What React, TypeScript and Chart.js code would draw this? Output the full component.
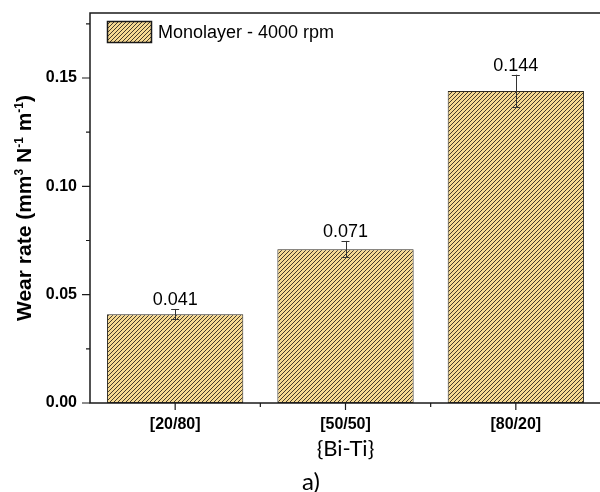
import { useEffect, useRef } from "react";
import { Chart, registerables } from "chart.js";

Chart.register(...registerables);

const categories = ["[20/80]", "[50/50]", "[80/20]"];
const wearRate = [0.041, 0.071, 0.144];
const wearError = [0.0024, 0.0038, 0.0075];
const valueLabels = ["0.041", "0.071", "0.144"];
const yMinorStep = 0.025;
const yMajorStep = 0.05;
const yMax = 0.18;
const seriesLabel = "Monolayer - 4000 rpm";
const xTitle = "{Bi-Ti}";
const panelLabel = "a)";
const yTitleParts = [
  { t: "Wear rate (mm", sup: false },
  { t: "3", sup: true },
  { t: " N", sup: false },
  { t: "-1", sup: true },
  { t: " m", sup: false },
  { t: "-1", sup: true },
  { t: ")", sup: false },
];

const ARIAL = '"Liberation Sans", Arial, sans-serif';
const CALIBRI = 'Lato, "Open Sans", sans-serif';
const TAN = "#f6d992";
const STRIPE = "#3a3226";
const INK = "#1a1a1a";

function makePattern(): CanvasPattern | string {
  const c = document.createElement("canvas");
  c.width = 4;
  c.height = 4;
  const g = c.getContext("2d");
  if (!g) return TAN;
  g.fillStyle = TAN;
  g.fillRect(0, 0, 4, 4);
  g.strokeStyle = STRIPE;
  g.lineWidth = 0.95;
  g.beginPath();
  g.moveTo(0, 4);
  g.lineTo(4, 0);
  g.moveTo(-1, 1);
  g.lineTo(1, -1);
  g.moveTo(3, 5);
  g.lineTo(5, 3);
  g.stroke();
  const p = g.createPattern(c, "repeat");
  return p || TAN;
}

export default function App() {
  const ref = useRef<HTMLCanvasElement | null>(null);

  useEffect(() => {
    const canvas = ref.current;
    if (!canvas) return;
    const pattern = makePattern();

    const decor = {
      id: "decor",
      afterDatasetsDraw(chart: any) {
        const ctx = chart.ctx as CanvasRenderingContext2D;
        const { left, right, top, bottom } = chart.chartArea;
        const ys = chart.scales.y;
        const xs = chart.scales.x;
        ctx.save();

        // error bars and value labels
        const meta = chart.getDatasetMeta(0);
        meta.data.forEach((bar: any, i: number) => {
          const x = bar.x;
          const yTop = ys.getPixelForValue(wearRate[i] + wearError[i]);
          const yBot = ys.getPixelForValue(wearRate[i] - wearError[i]);
          ctx.strokeStyle = "#333";
          ctx.lineWidth = 1;
          ctx.beginPath();
          ctx.moveTo(Math.round(x) + 0.5, yTop);
          ctx.lineTo(Math.round(x) + 0.5, yBot);
          ctx.moveTo(x - 4, Math.round(yTop) + 0.5);
          ctx.lineTo(x + 4, Math.round(yTop) + 0.5);
          ctx.moveTo(x - 4, Math.round(yBot) + 0.5);
          ctx.lineTo(x + 4, Math.round(yBot) + 0.5);
          ctx.stroke();
          ctx.fillStyle = "#000";
          ctx.font = `18px ${ARIAL}`;
          ctx.textAlign = "center";
          ctx.textBaseline = "alphabetic";
          ctx.fillText(valueLabels[i], x, yTop - 4);
        });

        // frame
        ctx.strokeStyle = INK;
        ctx.lineWidth = 1.5;
        ctx.beginPath();
        ctx.moveTo(left, top);
        ctx.lineTo(right, top);
        ctx.lineTo(right, bottom);
        ctx.lineTo(left, bottom);
        ctx.closePath();
        ctx.stroke();

        // y ticks
        ctx.lineWidth = 1.2;
        ctx.beginPath();
        for (let i = 0; i * yMinorStep <= yMax + 1e-9; i++) {
          const v = i * yMinorStep;
          const py = ys.getPixelForValue(v);
          const major = Math.abs(v / yMajorStep - Math.round(v / yMajorStep)) < 1e-6;
          ctx.moveTo(left - (major ? 8 : 4), py);
          ctx.lineTo(left, py);
        }
        // x ticks
        const n = categories.length;
        for (let i = 0; i < n; i++) {
          const px = xs.getPixelForValue(i);
          ctx.moveTo(px, bottom);
          ctx.lineTo(px, bottom + 7);
          if (i < n - 1) {
            const mx = (px + xs.getPixelForValue(i + 1)) / 2;
            ctx.moveTo(mx, bottom);
            ctx.lineTo(mx, bottom + 4);
          }
        }
        ctx.stroke();

        // legend
        const lx = 107.5;
        const ly = 21.5;
        ctx.fillStyle = pattern as any;
        ctx.fillRect(lx, ly, 44, 21);
        ctx.strokeStyle = INK;
        ctx.lineWidth = 1.5;
        ctx.strokeRect(lx, ly, 44, 21);
        ctx.fillStyle = "#000";
        ctx.font = `18px ${ARIAL}`;
        ctx.textAlign = "left";
        ctx.textBaseline = "middle";
        ctx.fillText(seriesLabel, 158, 33);

        // x title & panel label
        ctx.textAlign = "center";
        ctx.textBaseline = "alphabetic";
        ctx.font = `22px ${CALIBRI}`;
        ctx.fillText(xTitle, (left + right) / 2, 456);
        ctx.font = `24px ${CALIBRI}`;
        ctx.fillText(panelLabel, 311, 490);

        // y title with superscripts
        const mainFont = `bold 21px ${ARIAL}`;
        const supFont = `bold 12px ${ARIAL}`;
        let total = 0;
        const widths = yTitleParts.map((p) => {
          ctx.font = p.sup ? supFont : mainFont;
          const w = ctx.measureText(p.t).width;
          total += w;
          return w;
        });
        ctx.translate(31, (top + bottom) / 2);
        ctx.rotate(-Math.PI / 2);
        ctx.textAlign = "left";
        let cx = -total / 2;
        yTitleParts.forEach((p, i) => {
          ctx.font = p.sup ? supFont : mainFont;
          ctx.fillText(p.t, cx, p.sup ? -8 : 0);
          cx += widths[i];
        });
        ctx.restore();
      },
    };

    const chart = new Chart(canvas, {
      type: "bar",
      data: {
        labels: categories,
        datasets: [
          {
            label: seriesLabel,
            data: wearRate,
            backgroundColor: pattern as any,
            borderColor: "#2e2a20",
            borderWidth: 1,
            borderSkipped: false,
            barPercentage: 0.8,
            categoryPercentage: 1,
          },
        ],
      },
      options: {
        responsive: false,
        animation: false,
        layout: { padding: { top: 13, right: 9, left: 0, bottom: 0 } },
        plugins: {
          legend: { display: false },
          tooltip: { enabled: false },
          title: { display: false },
        },
        scales: {
          x: {
            grid: { display: false, drawTicks: false },
            border: { display: false },
            ticks: {
              color: "#000",
              font: { family: ARIAL, size: 16, weight: "bold" },
              padding: 12,
              maxRotation: 0,
            },
            afterFit(scale: any) {
              scale.height = 89;
              scale.paddingLeft = 0;
              scale.paddingRight = 0;
              scale.paddingTop = 0;
              scale.paddingBottom = 0;
            },
          },
          y: {
            min: 0,
            max: yMax,
            grid: { display: false, drawTicks: false },
            border: { display: false },
            ticks: {
              stepSize: yMinorStep,
              color: "#000",
              font: { family: ARIAL, size: 16, weight: "bold" },
              padding: 13,
              callback: (v: any) => {
                const num = Number(v);
                const r = num / yMajorStep;
                return Math.abs(r - Math.round(r)) < 1e-6 ? num.toFixed(2) : "";
              },
            },
            afterFit(scale: any) {
              scale.width = 90;
              scale.paddingLeft = 0;
              scale.paddingRight = 0;
              scale.paddingTop = 0;
              scale.paddingBottom = 0;
            },
          },
        },
      },
      plugins: [decor],
    });
    return () => chart.destroy();
  }, []);

  return (
    <div
      style={{
        position: "absolute",
        left: 0,
        top: 0,
        width: 600,
        height: 492,
        overflow: "hidden",
        background: "#fff",
      }}
    >
      <canvas ref={ref} width={610} height={492} style={{ display: "block" }} />
    </div>
  );
}
